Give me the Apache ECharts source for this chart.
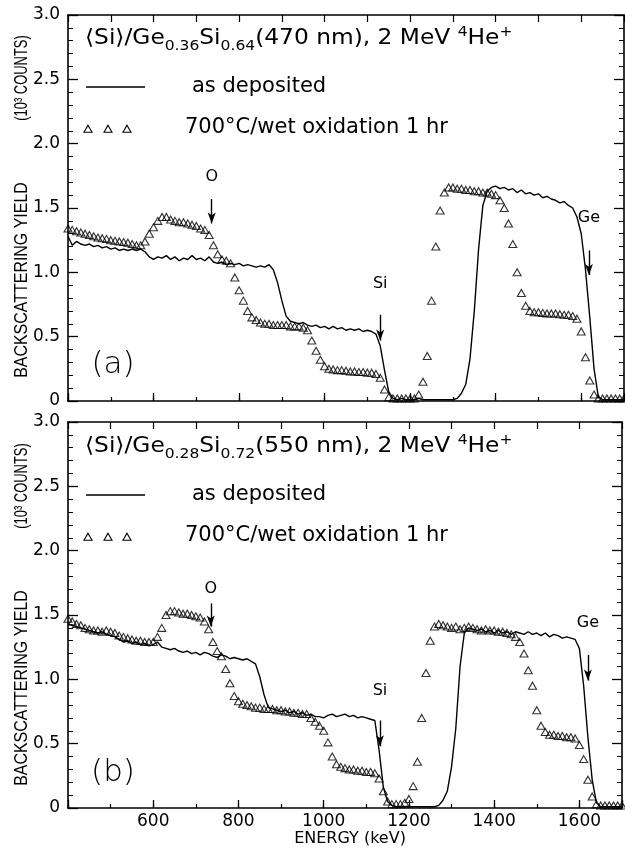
<!DOCTYPE html>
<html><head><meta charset="utf-8">
<script src="https://cdn.jsdelivr.net/npm/echarts@6/dist/echarts.min.js"></script>
<style>html,body{margin:0;padding:0;background:#fff}#c{width:625px;height:851px}</style>
</head><body><div id="c"></div>
<script>
// Energy channels (keV)
const energy = [
 400,410,420,430,440,450,460,470,480,490,
 500,510,520,530,540,550,560,570,580,590,
 600,610,620,630,640,650,660,670,680,690,
 700,710,720,730,740,750,760,770,780,790,
 800,810,820,830,840,850,860,870,880,890,
 900,910,920,930,940,950,960,970,980,990,
 1000,1010,1020,1030,1040,1050,1060,1070,1080,1090,
 1100,1110,1120,1130,1140,1150,1160,1170,1180,1190,
 1200,1210,1220,1230,1240,1250,1260,1270,1280,1290,
 1300,1310,1320,1330,1340,1350,1360,1370,1380,1390,
 1400,1410,1420,1430,1440,1450,1460,1470,1480,1490,
 1500,1510,1520,1530,1540,1550,1560,1570,1580,1590,
 1600,1610,1620,1630,1640,1650,1660,1670,1680,1690,
 1700];

// (a) Ge0.36Si0.64, as deposited (line)
const aDeposited = [
 1.28,1.21,1.24,1.22,1.21,1.22,1.20,1.21,1.19,1.20,
 1.18,1.19,1.17,1.18,1.17,1.18,1.17,1.18,1.16,1.12,
 1.10,1.12,1.11,1.13,1.10,1.12,1.09,1.11,1.10,1.13,
 1.10,1.11,1.09,1.12,1.08,1.07,1.08,1.06,1.07,1.06,
 1.07,1.05,1.06,1.05,1.04,1.05,1.04,1.06,1.02,0.92,
 0.78,0.66,0.62,0.61,0.60,0.61,0.59,0.58,0.59,0.57,
 0.58,0.56,0.58,0.56,0.57,0.55,0.56,0.55,0.56,0.54,
 0.55,0.54,0.52,0.43,0.24,0.07,0.02,0.01,0.02,0.01,
 0.01,0.01,0.02,0.01,0.01,0.01,0.01,0.01,0.01,0.01,
 0.01,0.02,0.06,0.13,0.33,0.70,1.18,1.52,1.63,1.66,
 1.67,1.65,1.66,1.64,1.65,1.62,1.64,1.61,1.62,1.60,
 1.61,1.58,1.59,1.57,1.56,1.54,1.55,1.52,1.50,1.43,
 1.30,1.02,0.65,0.25,0.03,0.01,0.01,0.01,0.01,0.01,
 0.01];

// (a) 700C / wet oxidation 1 hr (triangles)
const aOxidized = [
 1.34,1.33,1.32,1.31,1.30,1.29,1.28,1.27,1.265,1.26,
 1.25,1.245,1.24,1.235,1.23,1.22,1.21,1.21,1.24,1.30,
 1.35,1.40,1.43,1.43,1.41,1.40,1.39,1.39,1.38,1.37,
 1.36,1.34,1.33,1.29,1.21,1.14,1.10,1.09,1.07,0.96,
 0.86,0.78,0.70,0.65,0.63,0.61,0.60,0.60,0.59,0.59,
 0.59,0.59,0.58,0.58,0.58,0.57,0.55,0.47,0.39,0.32,
 0.27,0.25,0.245,0.24,0.24,0.235,0.23,0.23,0.225,0.225,
 0.22,0.22,0.21,0.18,0.09,0.03,0.02,0.02,0.02,0.02,
 0.02,0.02,0.05,0.15,0.35,0.78,1.20,1.48,1.62,1.66,
 1.66,1.65,1.65,1.64,1.64,1.63,1.63,1.62,1.62,1.61,
 1.60,1.56,1.50,1.38,1.22,1.00,0.84,0.74,0.70,0.69,
 0.69,0.685,0.68,0.68,0.68,0.675,0.67,0.67,0.66,0.64,
 0.54,0.34,0.16,0.05,0.02,0.02,0.02,0.02,0.02,0.02,
 0.02];

// (b) Ge0.28Si0.72, as deposited (line)
const bDeposited = [
 1.43,1.42,1.41,1.40,1.39,1.38,1.37,1.36,1.37,1.35,
 1.34,1.33,1.31,1.29,1.30,1.28,1.29,1.27,1.28,1.26,
 1.27,1.29,1.25,1.24,1.23,1.24,1.22,1.21,1.22,1.20,
 1.21,1.19,1.21,1.20,1.18,1.17,1.19,1.18,1.16,1.17,
 1.16,1.15,1.16,1.14,1.12,1.02,0.88,0.78,0.77,0.76,
 0.75,0.76,0.74,0.75,0.73,0.74,0.72,0.73,0.71,0.71,
 0.70,0.72,0.73,0.71,0.72,0.73,0.71,0.72,0.70,0.71,
 0.70,0.69,0.68,0.45,0.16,0.05,0.02,0.01,0.01,0.01,
 0.01,0.01,0.01,0.01,0.01,0.01,0.01,0.02,0.06,0.13,
 0.32,0.62,1.10,1.36,1.40,1.39,1.38,1.39,1.37,1.38,
 1.36,1.38,1.36,1.37,1.35,1.37,1.36,1.35,1.37,1.35,
 1.36,1.34,1.36,1.33,1.35,1.34,1.32,1.33,1.32,1.31,
 1.24,0.95,0.55,0.22,0.04,0.01,0.01,0.01,0.01,0.01,
 0.01];

// (b) 700C / wet oxidation 1 hr (triangles)
const bOxidized = [
 1.47,1.45,1.43,1.42,1.40,1.39,1.38,1.38,1.37,1.38,
 1.37,1.36,1.34,1.33,1.32,1.31,1.30,1.30,1.29,1.29,
 1.29,1.33,1.40,1.50,1.53,1.53,1.52,1.51,1.51,1.50,
 1.49,1.48,1.45,1.39,1.29,1.22,1.18,1.08,0.97,0.87,
 0.83,0.81,0.80,0.79,0.78,0.78,0.77,0.77,0.77,0.76,
 0.76,0.75,0.75,0.74,0.74,0.73,0.73,0.70,0.67,0.64,
 0.60,0.51,0.40,0.34,0.32,0.31,0.30,0.30,0.29,0.29,
 0.28,0.28,0.27,0.23,0.13,0.05,0.03,0.03,0.03,0.04,
 0.07,0.17,0.36,0.70,1.05,1.30,1.41,1.43,1.42,1.41,
 1.40,1.41,1.39,1.40,1.41,1.40,1.39,1.38,1.39,1.38,
 1.38,1.37,1.37,1.36,1.35,1.33,1.29,1.20,1.07,0.95,
 0.76,0.64,0.59,0.57,0.57,0.56,0.56,0.55,0.55,0.54,
 0.49,0.38,0.22,0.09,0.03,0.02,0.02,0.02,0.02,0.02,
 0.02];

const xTickLabels = [600, 800, 1000, 1200, 1400, 1600];
const yTickValues = [0, 0.5, 1.0, 1.5, 2.0, 2.5, 3.0];
const yTickLabels = ['0', '0.5', '1.0', '1.5', '2.0', '2.5', '3.0'];

// edge markers: [label, energy, labelYield, arrowTopYield, arrowTipYield]
const aMarkers = [['O', 736, 1.74, 1.57, 1.38], ['Si', 1130, 0.91, 0.67, 0.47], ['Ge', 1618, 1.42, 1.17, 0.98]];
const bMarkers = [['O', 735, 1.70, 1.59, 1.41], ['Si', 1132, 0.91, 0.68, 0.48], ['Ge', 1620, 1.44, 1.19, 0.99]];

const panelTitles = [
  {ge: '0.36', si: '0.64', nm: '470', tag: '(a)'},
  {ge: '0.28', si: '0.72', nm: '550', tag: '(b)'}
];
const legendTexts = ['as deposited', '700°C/wet oxidation 1 hr'];

const FONT = '"DejaVu Sans", sans-serif';
const NAME_FONT = '"Liberation Sans", Arial, sans-serif';
const GRID_L = 68, GRID_W = 556, GRID_H = 386;
const GRID_TOPS = [15, 422];

function pairs(ys) { return energy.map((e, i) => [e, ys[i]]); }

const xAxes = [], yAxes = [], grids = [], series = [];
GRID_TOPS.forEach((top, g) => {
  grids.push({left: GRID_L, top: top, width: GRID_W, height: GRID_H, containLabel: false});
  const showLab = g === 1;
  xAxes.push({type: 'value', gridIndex: g, position: 'bottom', min: 400, max: 1700, interval: 200,
    axisLine: {show: true, onZero: false, lineStyle: {color: '#000', width: 1.6}},
    axisTick: {show: true, inside: true, length: 8, lineStyle: {color: '#000', width: 1.3}},
    splitLine: {show: false},
    axisLabel: {show: showLab, margin: 5, color: '#000', fontSize: 17, fontFamily: FONT,
      formatter: v => xTickLabels.includes(v) ? String(v) : ''}});
  xAxes.push({type: 'value', gridIndex: g, position: 'bottom', offset: 0, min: 400, max: 1700, interval: 100,
    axisLine: {show: false}, axisTick: {show: true, inside: true, length: 4, lineStyle: {color: '#000', width: 1.2}},
    splitLine: {show: false}, axisLabel: {show: false}});
  xAxes.push({type: 'value', gridIndex: g, position: 'top', min: 400, max: 1700, interval: 100,
    axisLine: {show: true, onZero: false, lineStyle: {color: '#000', width: 1.6}},
    axisTick: {show: true, inside: true, length: 7, lineStyle: {color: '#000', width: 1.2}},
    splitLine: {show: false}, axisLabel: {show: false}});
  const yCommon = {type: 'value', gridIndex: g, min: 0, max: 3, interval: 0.5,
    axisLine: {show: true, onZero: false, lineStyle: {color: '#000', width: 1.6}},
    axisTick: {show: true, inside: true, length: 10, lineStyle: {color: '#000', width: 1.3}},
    minorTick: {show: true, splitNumber: 5, length: 5, lineStyle: {color: '#000', width: 1}},
    splitLine: {show: false}, minorSplitLine: {show: false}};
  yAxes.push(Object.assign({}, yCommon, {position: 'left',
    axisLabel: {show: true, margin: 8, color: '#000', fontSize: 17, fontFamily: FONT,
      formatter: v => { const i = yTickValues.findIndex(t => Math.abs(t - v) < 1e-6); return i >= 0 ? yTickLabels[i] : ''; }}}));
  yAxes.push(Object.assign({}, yCommon, {position: 'right', axisLabel: {show: false}}));

  const markers = g === 0 ? aMarkers : bMarkers;
  series.push({type: 'line', xAxisIndex: g * 3, yAxisIndex: g * 2, data: pairs(g === 0 ? aDeposited : bDeposited),
    showSymbol: false, symbol: 'none', z: 2, silent: true,
    lineStyle: {color: '#000', width: 1.4},
    markLine: {silent: true, symbol: ['none', 'arrow'], symbolSize: [6, 11], animation: false,
      label: {show: false}, lineStyle: {color: '#000', width: 1.4, type: 'solid'},
      data: markers.map(m => [{coord: [m[1], m[3]]}, {coord: [m[1], m[4]]}])},
    markPoint: {silent: true, symbol: 'circle', symbolSize: 1, itemStyle: {color: 'rgba(0,0,0,0)'}, animation: false,
      label: {show: true, position: 'inside', formatter: '{b}', color: '#000', fontSize: 16, fontFamily: FONT},
      data: markers.map(m => ({name: m[0], coord: [m[1], m[2]]}))}
  });
  series.push({type: 'scatter', xAxisIndex: g * 3, yAxisIndex: g * 2, data: pairs(g === 0 ? aOxidized : bOxidized),
    symbol: 'triangle', symbolSize: [8, 7], z: 3, silent: true,
    itemStyle: {color: 'rgba(255,255,255,0)', borderColor: '#000', borderWidth: 1.1}});
});

const graphics = [];
const OFF = [0, 408];
panelTitles.forEach((p, g) => {
  const dy = OFF[g];
  graphics.push({type: 'text', x: 85, y: 25 + dy, scaleX: 1.11, silent: true,
    style: {text: `{m|⟨Si⟩/Ge}{s|${p.ge}}{m|Si}{s|${p.si}}{m|(${p.nm} nm), 2 MeV }{p|4}{m|He}{p|+}`,
      fill: '#000', fontFamily: FONT, fontSize: 21, verticalAlign: 'top', align: 'left',
      rich: {
        m: {fontSize: 21, fontFamily: FONT, verticalAlign: 'bottom', padding: [0, 0, 4, 0]},
        s: {fontSize: 14, fontFamily: FONT, verticalAlign: 'bottom'},
        p: {fontSize: 14, fontFamily: FONT, verticalAlign: 'bottom', padding: [0, 0, 14, 0]}
      }}});
  graphics.push({type: 'line', silent: true, shape: {x1: 86, y1: 87 + dy, x2: 145, y2: 87 + dy},
    style: {stroke: '#000', lineWidth: 1.6}});
  graphics.push({type: 'text', x: 192, y: 87 + dy, silent: true,
    style: {text: legendTexts[0], fill: '#000', fontFamily: FONT, fontSize: 21, verticalAlign: 'middle', align: 'left'}});
  [88, 108, 127].forEach(x => {
    const y = 129 + dy;
    graphics.push({type: 'polygon', silent: true, shape: {points: [[x, y - 3.8], [x + 4, y + 3.2], [x - 4, y + 3.2]]},
      style: {fill: 'none', stroke: '#000', lineWidth: 1.1}});
  });
  graphics.push({type: 'text', x: 185, y: 128 + dy, silent: true,
    style: {text: legendTexts[1], fill: '#000', fontFamily: FONT, fontSize: 21, verticalAlign: 'middle', align: 'left'}});
  graphics.push({type: 'text', x: 113, y: 365 + dy, silent: true,
    style: {text: p.tag, fill: '#000', fontFamily: FONT, fontSize: 31, fontWeight: 200, verticalAlign: 'middle', align: 'center'}});
  graphics.push({type: 'text', x: 21.5, y: 280 + dy, rotation: Math.PI / 2, scaleX: 0.84, silent: true,
    style: {text: 'BACKSCATTERING YIELD', fill: '#000', fontFamily: NAME_FONT, fontSize: 19,
      verticalAlign: 'middle', align: 'center'}});
  graphics.push({type: 'text', x: 21.5, y: 78 + dy, rotation: Math.PI / 2, scaleX: 0.68, silent: true,
    style: {text: '(10³ COUNTS)', fill: '#000', fontFamily: NAME_FONT, fontSize: 19,
      verticalAlign: 'middle', align: 'center'}});
});
graphics.push({type: 'text', x: 350, y: 839, silent: true,
  style: {text: 'ENERGY (keV)', fill: '#000', fontFamily: FONT, fontSize: 16, verticalAlign: 'middle', align: 'center'}});

const chart = echarts.init(document.getElementById('c'), null, {renderer: 'canvas'});
chart.setOption({
  animation: false,
  backgroundColor: '#fff',
  textStyle: {fontFamily: FONT},
  grid: grids,
  xAxis: xAxes,
  yAxis: yAxes,
  series: series,
  graphic: graphics
});
</script></body></html>
